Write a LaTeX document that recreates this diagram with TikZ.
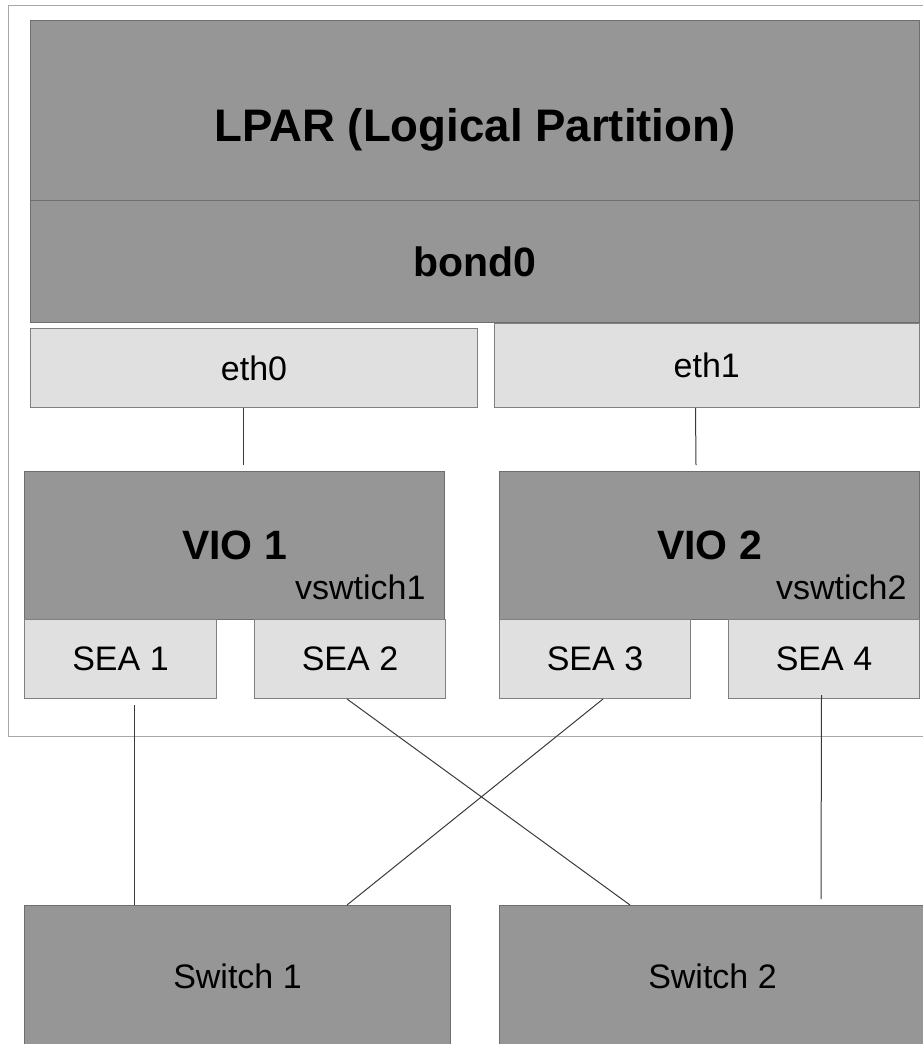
\documentclass[tikz,border=0pt]{standalone}
\usepackage{fontspec}
\setmainfont{Liberation Sans}
\definecolor{darkfill}{HTML}{969696}
\definecolor{darkline}{HTML}{6E6E6E}
\definecolor{lightfill}{HTML}{E0E0E0}
\definecolor{lightline}{HTML}{808080}
\definecolor{framecol}{HTML}{A8A8A8}
\definecolor{wirecol}{HTML}{3A3A3A}
\begin{document}
\begin{tikzpicture}[x=1pt, y=-1pt,
  dark/.style={draw=darkline, fill=darkfill, line width=1pt, inner sep=0pt,
    anchor=north west, font=\fontsize{34}{40}\selectfont},
  light/.style={draw=lightline, fill=lightfill, line width=1pt, inner sep=0pt,
    anchor=north west, font=\fontsize{34}{40}\selectfont},
  big/.style={font=\fontsize{41}{48}\selectfont\bfseries},
  wire/.style={draw=wirecol, line width=1pt}]
\useasboundingbox (0,0) rectangle (923,1044);
\draw[framecol, line width=1pt] (8,5) rectangle (960,736);

\node[dark, minimum width=889pt, minimum height=180pt] (lpar) at (30,20) {};
\node[anchor=base, font=\fontsize{45.6}{52}\selectfont\bfseries] (lpartxt)
  at ([yshift=-31pt]lpar.center) {LPAR (Logical Partition)};
\node[dark, big, minimum width=889pt, minimum height=122pt] (bond) at (30,200) {bond0};

\node[light, minimum width=447pt, minimum height=79pt] (eth0) at (30,328) {eth0};
\node[light, minimum width=425.5pt, minimum height=84pt] (eth1) at (493.5,323) {eth1};

\node[dark, big, minimum width=420pt, minimum height=148pt] (vio1) at (24,471) {VIO 1};
\node[dark, big, minimum width=420pt, minimum height=148pt] (vio2) at (499,471) {VIO 2};
\node[anchor=base east, font=\fontsize{34}{40}\selectfont] (vsw1)
  at ([xshift=-16pt, yshift=21pt]vio1.south east) {vswtich1};
\node[anchor=base east, font=\fontsize{34}{40}\selectfont] (vsw2)
  at ([xshift=-10pt, yshift=21pt]vio2.south east) {vswtich2};

\node[light, minimum width=192pt, minimum height=79pt] (sea1) at (24,619) {SEA 1};
\node[light, minimum width=191pt, minimum height=79pt] (sea2) at (254,619) {SEA 2};
\node[light, minimum width=191pt, minimum height=79pt] (sea3) at (499,619) {SEA 3};
\node[light, minimum width=191pt, minimum height=79pt] (sea4) at (728,619) {SEA 4};

\node[dark, minimum width=426pt, minimum height=141pt] (sw1) at (24,905) {Switch 1};
\node[dark, minimum width=426pt, minimum height=141pt] (sw2) at (499,905) {Switch 2};

\draw[wire] ([xshift=213pt]eth0.south west) -- ([xshift=219pt, yshift=6pt]vio1.north west);
\draw[wire] ([xshift=202pt]eth1.south west) -- ([xshift=197pt, yshift=6pt]vio2.north west);
\draw[wire] ([xshift=110pt, yshift=-6pt]sea1.south west) -- ([xshift=110pt]sw1.north west);
\draw[wire] ([xshift=-3pt]sea2.south) -- ([xshift=131pt]sw2.north west);
\draw[wire] ([xshift=8pt]sea3.south) -- ([xshift=323pt]sw1.north west);
\draw[wire] ([xshift=-2.5pt, yshift=4pt]sea4.south) -- ([xshift=322pt, yshift=6pt]sw2.north west);
\end{tikzpicture}
\end{document}
